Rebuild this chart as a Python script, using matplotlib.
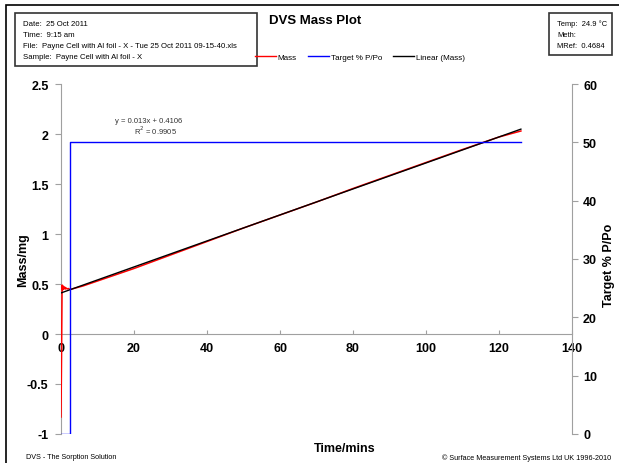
import matplotlib.pyplot as plt
from matplotlib.patches import Rectangle

plt.rcParams['font.family'] = ['Liberation Sans', 'DejaVu Sans']

# === DATA ===
mass_time = [0, 0.15, 0.3, 0.45, 0.6, 0.8, 1.0, 1.2, 1.4, 1.7, 2.0, 2.5, 3.0, 6, 10, 20, 30, 40, 50, 60,
             70, 80, 90, 100, 110, 120, 126]
mass = [-0.83, -0.2, 0.49, 0.44, 0.48, 0.45, 0.47, 0.45, 0.46, 0.45, 0.455, 0.445, 0.45, 0.48, 0.53,
        0.655, 0.79, 0.925, 1.06, 1.19, 1.32, 1.455, 1.585, 1.715, 1.845, 1.97, 2.03]
target_time = [0, 2.5, 2.5, 126]
target = [0, 0, 50, 50]
slope = 0.013
intercept = 0.4106
r2 = 0.9905
fit_time = [0, 126]

x_ticks = [0, 20, 40, 60, 80, 100, 120, 140]
y_ticks = [-1, -0.5, 0, 0.5, 1, 1.5, 2, 2.5]
y2_ticks = [0, 10, 20, 30, 40, 50, 60]

info_lines = ["Date:  25 Oct 2011", "Time:  9:15 am",
              "File:  Payne Cell with Al foil - X - Tue 25 Oct 2011 09-15-40.xls",
              "Sample:  Payne Cell with Al foil - X"]
meta_lines = ["Temp:  24.9 \u00b0C", "Meth:", "MRef:  0.4684"]

W, H = 619, 464

# === FIGURE ===
fig = plt.figure(figsize=(6.19, 4.64), dpi=100)
ax = fig.add_axes([61 / W, 1 - 435 / H, 511 / W, 350 / H])
ax2 = ax.twinx()

fit = [slope * t + intercept for t in fit_time]
ax.plot(mass_time, mass, color='red', lw=1.1, zorder=3)
ax.plot(fit_time, fit, color='black', lw=1.0, zorder=4)
ax2.plot(target_time, target, color='blue', lw=1.0)

ax.set_xlim(0, 140)
ax.set_ylim(-1, 2.5)
ax2.set_ylim(0, 60)
ax.set_xticks(x_ticks)
ax.set_yticks(y_ticks)
ax.set_yticklabels([f"{v:g}" for v in y_ticks])
ax2.set_yticks(y2_ticks)

gray = '#a0a0a0'
for a in (ax, ax2):
    a.spines['top'].set_visible(False)
ax.spines['right'].set_visible(False)
ax2.spines['left'].set_visible(False)
ax2.spines['bottom'].set_visible(False)
ax.spines['bottom'].set_position(('data', 0))
ax.spines['bottom'].set_color(gray)
ax.spines['left'].set_color(gray)
ax2.spines['right'].set_color(gray)
ax.tick_params(axis='x', direction='in', length=3, color=gray, labelsize=9, pad=6)
ax.tick_params(axis='y', direction='out', length=4, color=gray, labelsize=9, pad=5)
ax2.tick_params(axis='y', direction='out', length=4, color=gray, labelsize=9, pad=4)
for lbl in ax.get_xticklabels() + ax.get_yticklabels() + ax2.get_yticklabels():
    lbl.set_fontweight('bold')

ax.set_ylabel("Mass/mg", fontsize=9, fontweight='bold')
ax.yaxis.set_label_coords(-0.062, 0.5)
ax2.set_ylabel("Target % P/Po", fontsize=9, fontweight='bold')
ax2.yaxis.set_label_coords(1.06, 0.486)
fig.text(345 / W, 1 - 449 / H, "Time/mins", ha='center', va='center', fontsize=9, fontweight='bold')

ax.text(24, 2.14, f"y = {slope}x + {intercept}", ha='center', va='center', fontsize=5.5, color='#333333')
ax.text(26, 2.04, f"R$^2$ = {r2}", ha='center', va='center', fontsize=5.5, color='#333333')

fig.text(315 / W, 1 - 21 / H, "DVS Mass Plot", ha='center', va='center', fontsize=9.5, fontweight='bold')

# legend
handles = [plt.Line2D([], [], color='red', lw=1), plt.Line2D([], [], color='blue', lw=1),
           plt.Line2D([], [], color='black', lw=1)]
fig.legend(handles, ['Mass', 'Target % P/Po', 'Linear (Mass)'], loc='center',
           bbox_to_anchor=(360 / W, 1 - 58 / H), ncol=3, frameon=False, fontsize=5.8,
           handlelength=2.6, columnspacing=1.4, handletextpad=0.2, borderaxespad=0)

# header boxes and frame
fig.patches.append(Rectangle((6 / W, -0.1), 1.2, 1.1 - 6 / H, transform=fig.transFigure,
                             fill=False, ec='black', lw=1.2))
fig.patches.append(Rectangle((15 / W, 1 - 67 / H), 242 / W, 53 / H, transform=fig.transFigure,
                             fill=False, ec='#333333', lw=1.2))
fig.patches.append(Rectangle((549 / W, 1 - 56 / H), 63 / W, 42 / H, transform=fig.transFigure,
                             fill=False, ec='#333333', lw=1.2))
for i, s in enumerate(info_lines):
    fig.text(23 / W, 1 - (24 + 11.2 * i) / H, s, va='center', fontsize=5.6)
for i, s in enumerate(meta_lines):
    fig.text(557 / W, 1 - (24 + 11.3 * i) / H, s, va='center', fontsize=5.4)

fig.text(26 / W, 1 - 458 / H, "DVS - The Sorption Solution", va='center', fontsize=5.2)
fig.text(611 / W, 1 - 458 / H, "\u00a9 Surface Measurement Systems Ltd UK 1996-2010",
         ha='right', va='center', fontsize=5.2)

fig.savefig("out.png", dpi=100)
